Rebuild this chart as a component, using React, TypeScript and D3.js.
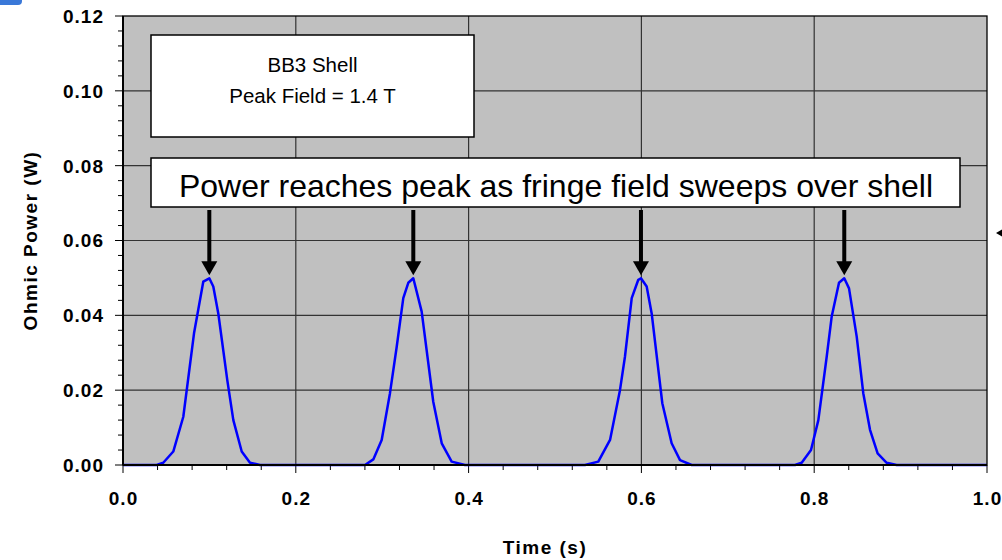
import React from "react";
import * as d3 from "d3";

// Time (s) samples
const timeValues: number[] = [
  0.0,
  0.039, 0.0466, 0.0582, 0.0698, 0.0822, 0.0929, 0.0999, 0.1045, 0.1103, 0.1207, 0.1277, 0.1374, 0.147, 0.1586,
  0.2801, 0.2897, 0.2994, 0.309, 0.3168, 0.3244, 0.3302, 0.336, 0.3457, 0.3591, 0.3689, 0.3804, 0.3958,
  0.5347, 0.5501, 0.5637, 0.5752, 0.581, 0.5888, 0.5964, 0.5995, 0.6061, 0.6119, 0.6242, 0.635, 0.6447, 0.6582,
  0.7778, 0.7855, 0.7963, 0.8048, 0.8145, 0.8202, 0.8287, 0.8348, 0.8403, 0.8492, 0.8568, 0.8646, 0.8734, 0.8839, 0.8954,
  1.0,
];
// Ohmic power (W) at those samples
const powerValues: number[] = [
  0.0,
  0.0, 0.0006, 0.0036, 0.0129, 0.0352, 0.049, 0.0499, 0.0477, 0.0405, 0.0227, 0.012, 0.0036, 0.0006, 0.0,
  0.0, 0.0015, 0.0067, 0.0192, 0.0316, 0.0446, 0.0487, 0.0499, 0.041, 0.0169, 0.0058, 0.0009, 0.0,
  0.0, 0.0009, 0.0067, 0.02, 0.029, 0.0446, 0.0495, 0.0499, 0.0477, 0.0405, 0.0165, 0.0058, 0.0013, 0.0,
  0.0, 0.0006, 0.004, 0.012, 0.029, 0.0396, 0.0487, 0.0499, 0.0472, 0.0343, 0.0192, 0.0094, 0.0031, 0.0006, 0.0,
  0.0,
];

const xTickValues: number[] = [0, 0.2, 0.4, 0.6, 0.8, 1.0];
const yTickValues: number[] = [0, 0.02, 0.04, 0.06, 0.08, 0.1, 0.12];
// peak times pointed at by the arrows
const arrowTimes: number[] = [0.0999, 0.336, 0.5995, 0.8348];
const arrowPeak = 0.0499;

const titleLines: string[] = ["BB3 Shell", "Peak Field = 1.4 T"];
const noteText = "Power reaches peak as fringe field sweeps over shell";
const xTitle = "Time (s)";
const yTitle = "Ohmic Power (W)";

export default function App() {
  const W = 1002, H = 560;
  const left = 123, right = 987, top = 16, bottom = 465;
  const x = d3.scaleLinear().domain([0, 1]).range([left, right]);
  const y = d3.scaleLinear().domain([0, 0.12]).range([bottom, top]);

  const pts: [number, number][] = timeValues.map((t, i) => [t, powerValues[i]]);
  const line = d3.line<[number, number]>().x(d => x(d[0])).y(d => y(d[1]));

  const xMinor = d3.range(0, 1.0001, 0.04);
  const yMinor = d3.range(0, 0.12001, 0.004);
  const font = "Arial, 'Liberation Sans', Helvetica, sans-serif";

  return (
    <svg width={W} height={H} style={{ position: "absolute", left: 0, top: 0, background: "#fff" }} fontFamily={font}>
      {/* top-left clipped artefact */}
      <rect x={-10} y={-10} width={32} height={15} rx={4} fill="#3a78d8" />
      <rect x={left} y={top} width={right - left} height={bottom - top} fill="#c0c0c0" />
      {/* gridlines */}
      {xTickValues.slice(1, -1).map(v => (
        <line key={"gx" + v} x1={x(v)} x2={x(v)} y1={top} y2={bottom} stroke="#333" strokeWidth={1.2} />
      ))}
      {yTickValues.slice(1, -1).map(v => (
        <line key={"gy" + v} x1={left} x2={right} y1={y(v)} y2={y(v)} stroke="#333" strokeWidth={1.2} />
      ))}
      {/* minor ticks */}
      {yMinor.map((v, i) => (
        <line key={"ym" + i} x1={left - (i % 5 === 0 ? 8 : 5)} x2={left} y1={y(v)} y2={y(v)} stroke="#000" strokeWidth={1} />
      ))}
      {xMinor.map((v, i) => (
        <line key={"xm" + i} x1={x(v)} x2={x(v)} y1={bottom} y2={bottom + (i % 5 === 0 ? 8 : 5)} stroke="#000" strokeWidth={1} />
      ))}
      {/* data */}
      <path d={line(pts) || ""} fill="none" stroke="#0000ff" strokeWidth={2.5} strokeLinejoin="round" />
      {/* frame */}
      <rect x={left} y={top} width={right - left} height={bottom - top} fill="none" stroke="#000" strokeWidth={1.3} />
      <line x1={left} x2={left} y1={top} y2={bottom} stroke="#000" strokeWidth={2} />
      <line x1={left} x2={right} y1={bottom} y2={bottom} stroke="#000" strokeWidth={2} />
      {/* tick labels */}
      {yTickValues.map(v => (
        <text key={"yl" + v} x={104} y={y(v)} dy="0.36em" textAnchor="end" fontSize={19} fontWeight="bold" letterSpacing={1}>{v.toFixed(2)}</text>
      ))}
      {xTickValues.map(v => (
        <text key={"xl" + v} x={x(v) + 0.5} y={505} textAnchor="middle" fontSize={19} fontWeight="bold" letterSpacing={1}>{v.toFixed(1)}</text>
      ))}
      <text x={545} y={554} textAnchor="middle" fontSize={19} fontWeight="bold" letterSpacing={1.5}>{xTitle}</text>
      <text transform={`translate(37,${(top + bottom) / 2}) rotate(-90)`} textAnchor="middle" fontSize={19} fontWeight="bold" letterSpacing={1.5}>{yTitle}</text>
      {/* title box */}
      <rect x={151} y={35} width={323} height={102} fill="#fff" stroke="#000" strokeWidth={1.5} />
      {titleLines.map((s, i) => (
        <text key={"t" + i} x={312.5} y={72 + i * 31} textAnchor="middle" fontSize={20.5}>{s}</text>
      ))}
      {/* note box */}
      <rect x={151} y={158} width={809} height={49} fill="#fff" stroke="#000" strokeWidth={1.5} />
      <text x={556} y={197} textAnchor="middle" fontSize={32}>{noteText}</text>
      {/* arrows */}
      {arrowTimes.map((t, i) => {
        const ax = x(t);
        const tip = y(arrowPeak) - 3;
        return (
          <g key={"a" + i}>
            <line x1={ax} x2={ax} y1={210} y2={tip - 12} stroke="#000" strokeWidth={4} />
            <path d={`M${ax - 8},${tip - 14} L${ax + 8},${tip - 14} L${ax},${tip} Z`} fill="#000" />
          </g>
        );
      })}
      {/* right edge clipped arrow */}
      <path d="M996,233 L1003,229 L1003,237 Z" fill="#000" />
    </svg>
  );
}
